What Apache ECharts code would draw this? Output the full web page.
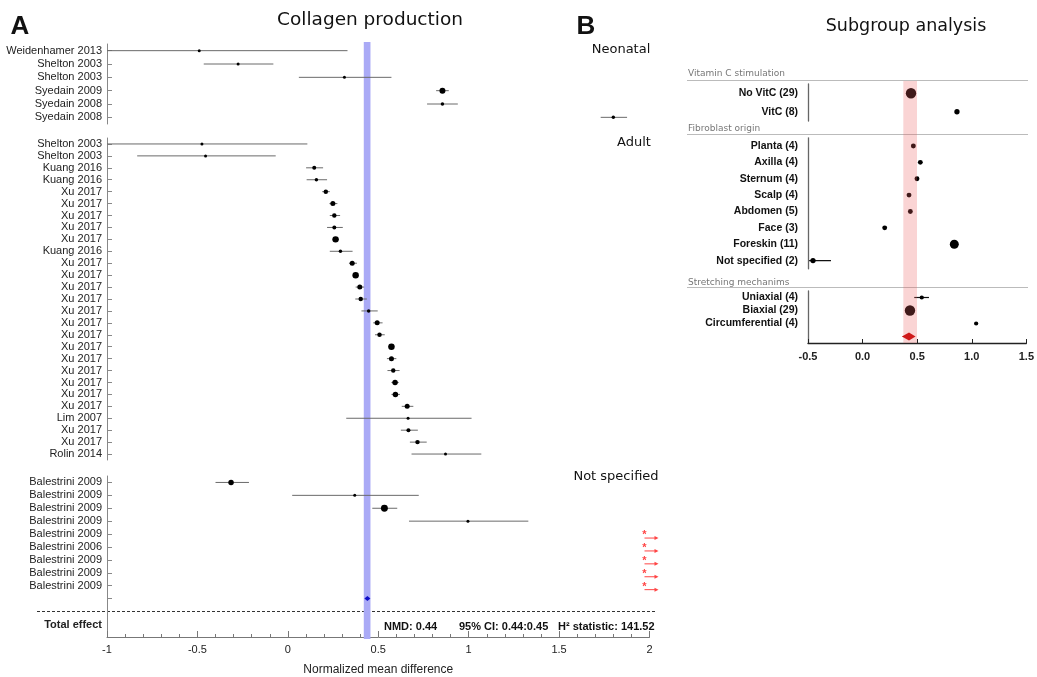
<!DOCTYPE html>
<html><head><meta charset="utf-8">
<script src="https://cdn.jsdelivr.net/npm/echarts@6/dist/echarts.min.js"></script>
<style>html,body{margin:0;padding:0;background:#fff}#c{width:1037px;height:677px}</style>
</head><body><div id="c"></div>
<script>
// ---------- Panel A : Collagen production ----------
const neoLabels = ['Weidenhamer 2013','Shelton 2003','Shelton 2003','Syedain 2009','Syedain 2008','Syedain 2008'];
const neoMean   = [-0.49, -0.275, 0.313, 0.855, 0.855, 1.80];
const neoLow    = [-1.0, -0.465, 0.061, 0.82, 0.77, 1.73];
const neoHigh   = [0.33, -0.08, 0.573, 0.89, 0.94, 1.876];
const neoWeight = [2.25, 2.25, 2.25, 9, 3, 3];

const adultLabels = ['Shelton 2003','Shelton 2003','Kuang 2016','Kuang 2016','Xu 2017','Xu 2017','Xu 2017','Xu 2017','Xu 2017','Kuang 2016','Xu 2017','Xu 2017','Xu 2017','Xu 2017','Xu 2017','Xu 2017','Xu 2017','Xu 2017','Xu 2017','Xu 2017','Xu 2017','Xu 2017','Xu 2017','Lim 2007','Xu 2017','Xu 2017','Rolin 2014'];
const adultMean = [-0.475,-0.455,0.146,0.158,0.21,0.249,0.257,0.257,0.264,0.291,0.356,0.375,0.398,0.403,0.447,0.494,0.507,0.573,0.573,0.583,0.593,0.595,0.66,0.665,0.667,0.717,0.872];
const adultLow  = [-1.0,-0.833,0.101,0.104,0.19,0.23,0.232,0.217,0.25,0.232,0.338,0.36,0.375,0.373,0.407,0.472,0.482,0.555,0.548,0.551,0.573,0.573,0.63,0.323,0.625,0.675,0.684];
const adultHigh = [0.108,-0.067,0.195,0.217,0.232,0.274,0.289,0.304,0.28,0.358,0.382,0.39,0.422,0.437,0.497,0.524,0.536,0.59,0.6,0.618,0.613,0.62,0.694,1.016,0.719,0.768,1.07];
const adultWeight = [2.25,2.25,4,3,5,6.25,5,4,10.5,3,6.25,10.5,6.25,5,3,6.25,5,10.5,6.25,5,7.5,7.5,6.25,2.25,4,5,2.25];

const nsLabels = ['Balestrini 2009','Balestrini 2009','Balestrini 2009','Balestrini 2009','Balestrini 2009','Balestrini 2006','Balestrini 2009','Balestrini 2009','Balestrini 2009',''];
const nsMean   = [-0.314, 0.37, 0.534, 0.996, null, null, null, null, null, null];
const nsLow    = [-0.40, 0.024, 0.467, 0.67, null, null, null, null, null, null];
const nsHigh   = [-0.215, 0.724, 0.605, 1.33, null, null, null, null, null, null];
const nsWeight = [7.5, 2.25, 12, 2.25, null, null, null, null, null, null];
const nsOutOfRange = [false,false,false,false,true,true,true,true,true,false];

const totalLabels = ['', '', 'Total effect', ''];
const totalNMD = 0.44;
const totalCI = [0.44, 0.45];
const totalH2 = 141.52;
const totalRow = 9;            // diamond row in the "Not specified" block
const bandA = [0.42, 0.457];

const groupNames = ['Neonatal', 'Adult', 'Not specified'];
const xTicksA = { min: -1, max: 2, interval: 0.5 };

// ---------- Panel B : Subgroup analysis ----------
const sectionNames = ['Vitamin C stimulation', 'Fibroblast origin', 'Stretching mechanims'];
const vitLabels = ['No VitC (29)', 'VitC (8)'];
const vitMean   = [0.428, 0.842];
const vitWeight = [27, 7];
const fibLabels = ['Planta (4)','Axilla (4)','Sternum (4)','Scalp (4)','Abdomen (5)','Face (3)','Foreskin (11)','Not specified (2)'];
const fibMean   = [0.449, 0.512, 0.482, 0.41, 0.422, 0.191, 0.818, -0.455];
const fibLow    = [null, null, null, null, null, null, null, -0.49];
const fibHigh   = [null, null, null, null, null, null, null, -0.293];
const fibWeight = [6, 6, 6, 6, 6, 6, 20, 7];
const strLabels = ['Uniaxial (4)', 'Biaxial (29)', 'Circumferential (4)', ''];
const strMean   = [0.542, 0.434, 1.04, null];
const strLow    = [0.473, null, null, null];
const strHigh   = [0.608, null, null, null];
const strWeight = [4.5, 27, 4.5, null];
const subTotalMean = 0.425;
const subTotalCI = [0.36, 0.485];
const subTotalRow = 3;
const bandB = [0.359, 0.482];
const xTicksB = { min: -0.5, max: 1.5, interval: 0.5 };

// ---------- helpers ----------
const SANS = 'Liberation Sans, Arial, sans-serif';
const DEJA = 'DejaVu Sans, Verdana, sans-serif';
const sizeA = w => 2 * Math.sqrt(w);
const sizeB = w => 2 * Math.sqrt(w);

function ptsData(mean, weight) {
  const out = [];
  mean.forEach((m, i) => { if (m != null) out.push([m, i, weight[i]]); });
  return out;
}
function ciData(low, high) {
  const out = [];
  low.forEach((l, i) => { if (l != null && high[i] != null) out.push([l, high[i], i]); });
  return out;
}
function ciSeries(idx, low, high, color, width) {
  return {
    type: 'custom', xAxisIndex: idx, yAxisIndex: idx, z: 3, clip: true, silent: true,
    data: ciData(low, high), encode: { x: [0, 1], y: 2 },
    renderItem: (p, api) => {
      const a = api.coord([api.value(0), api.value(2)]);
      const b = api.coord([api.value(1), api.value(2)]);
      return { type: 'line', shape: { x1: a[0], y1: a[1], x2: b[0], y2: b[1] },
        style: { stroke: color, lineWidth: width } };
    }
  };
}
function ptSeries(idx, mean, weight, sizeFn) {
  return {
    type: 'scatter', xAxisIndex: idx, yAxisIndex: idx, z: 4, silent: true,
    data: ptsData(mean, weight), symbol: 'circle',
    symbolSize: v => sizeFn(v[2]),
    itemStyle: { color: '#000', opacity: 1 }
  };
}
function bandSeries(idx, band, color, z) {
  return {
    type: 'custom', xAxisIndex: idx, yAxisIndex: idx, z: z, silent: true, clip: false,
    data: [[band[0], band[1]]], encode: { x: [0, 1] },
    renderItem: (p, api) => {
      const a = api.coord([api.value(0), 1]);
      const b = api.coord([api.value(1), 0]);
      return { type: 'rect', shape: { x: a[0], y: a[1], width: b[0] - a[0], height: b[1] - a[1] },
        style: { fill: color } };
    }
  };
}
function diamondSeries(idx, mean, ci, row, color, halfH, minHalfW) {
  return {
    type: 'custom', xAxisIndex: idx, yAxisIndex: idx, z: 5, silent: true, clip: false,
    data: [[ci[0], ci[1], mean, row]], encode: { x: [0, 1], y: 3 },
    renderItem: (p, api) => {
      const c = api.coord([api.value(2), api.value(3)]);
      let l = api.coord([api.value(0), api.value(3)])[0];
      let r = api.coord([api.value(1), api.value(3)])[0];
      if (c[0] - l < minHalfW) l = c[0] - minHalfW;
      if (r - c[0] < minHalfW) r = c[0] + minHalfW;
      return { type: 'polygon', shape: { points: [[l, c[1]], [c[0], c[1] - halfH], [r, c[1]], [c[0], c[1] + halfH]] },
        style: { fill: color } };
    }
  };
}

// grids
const leftA = 107, rightA = 387.5, leftB = 808, rightB = 7;
const grids = [
  { left: leftA, right: rightA, top: 42, height: 597 },   // 0 band A
  { left: leftA, right: rightA, top: 44, height: 80 },    // 1 neonatal
  { left: leftA, right: rightA, top: 138, height: 322 },  // 2 adult
  { left: leftA, right: rightA, top: 476, height: 129 },  // 3 not specified
  { left: leftA, right: rightA, top: 605, height: 34 },   // 4 total
  { left: leftB, right: rightB, top: 81, height: 262 },   // 5 band B
  { left: leftB, right: rightB, top: 84, height: 37 },    // 6 vit C
  { left: leftB, right: rightB, top: 137.8, height: 131 },// 7 fibroblast
  { left: leftB, right: rightB, top: 291, height: 52 }    // 8 stretching
];

function hiddenX(i, t) { return { type: 'value', gridIndex: i, min: t.min, max: t.max, show: false, splitLine: { show: false } }; }
function hiddenY(i) { return { type: 'value', gridIndex: i, min: 0, max: 1, show: false, splitLine: { show: false } }; }
function catYA(i, labels, showTick) {
  return {
    type: 'category', gridIndex: i, data: labels, inverse: true,
    axisLine: { show: true, onZero: false, lineStyle: { color: '#888', width: 1 } },
    axisTick: { show: showTick, inside: true, length: 5, alignWithLabel: true, lineStyle: { color: '#888' } },
    axisLabel: { fontSize: 11, color: '#222', margin: 5, fontFamily: SANS, interval: 0 },
    splitLine: { show: false }
  };
}
function catYB(i, labels) {
  return {
    type: 'category', gridIndex: i, data: labels, inverse: true,
    axisLine: { show: true, onZero: false, lineStyle: { color: '#666', width: 1.3 } },
    axisTick: { show: false },
    axisLabel: { fontSize: 10.5, fontWeight: 'bold', color: '#111', margin: 10, fontFamily: SANS, interval: 0 },
    splitLine: { show: false }
  };
}

const xAxes = [
  hiddenX(0, xTicksA), hiddenX(1, xTicksA), hiddenX(2, xTicksA), hiddenX(3, xTicksA),
  {
    type: 'value', gridIndex: 4, min: xTicksA.min, max: xTicksA.max, interval: xTicksA.interval,
    axisLine: { show: true, onZero: false, lineStyle: { color: '#777', width: 1 } },
    axisTick: { show: true, inside: true, length: 6, lineStyle: { color: '#777' } },
    minorTick: { show: true, splitNumber: 5, length: 3, lineStyle: { color: '#777' } },
    axisLabel: { fontSize: 11, color: '#222', margin: 7, fontFamily: SANS },
    splitLine: { show: false },
    name: 'Normalized mean difference', nameLocation: 'middle', nameGap: 27,
    nameTextStyle: { fontSize: 12, color: '#222', fontFamily: SANS }
  },
  hiddenX(5, xTicksB), hiddenX(6, xTicksB), hiddenX(7, xTicksB),
  {
    type: 'value', gridIndex: 8, min: xTicksB.min, max: xTicksB.max, interval: xTicksB.interval,
    axisLine: { show: true, onZero: false, lineStyle: { color: '#222', width: 1.3 } },
    axisTick: { show: true, inside: true, length: 4, lineStyle: { color: '#222' } },
    axisLabel: { fontSize: 11, fontWeight: 'bold', color: '#222', margin: 8, fontFamily: SANS,
      formatter: v => v.toFixed(1) },
    splitLine: { show: false }
  }
];
const totalY = catYA(4, totalLabels, false);
totalY.axisLabel.fontWeight = 'bold';
const yAxes = [
  hiddenY(0), catYA(1, neoLabels, true), catYA(2, adultLabels, true), catYA(3, nsLabels, true), totalY,
  hiddenY(5), catYB(6, vitLabels), catYB(7, fibLabels), catYB(8, strLabels)
];

const outData = [];
nsOutOfRange.forEach((f, i) => { if (f) outData.push([xTicksA.max, i]); });
const RED = '#ff4545';

const series = [
  bandSeries(0, bandA, '#aaaaf6', 1),
  ciSeries(1, neoLow, neoHigh, '#6a6a6a', 1), ptSeries(1, neoMean, neoWeight, sizeA),
  ciSeries(2, adultLow, adultHigh, '#6a6a6a', 1), ptSeries(2, adultMean, adultWeight, sizeA),
  ciSeries(3, nsLow, nsHigh, '#6a6a6a', 1), ptSeries(3, nsMean, nsWeight, sizeA),
  diamondSeries(3, totalNMD, totalCI, totalRow, '#1010c8', 2.5, 3),
  {
    type: 'custom', xAxisIndex: 3, yAxisIndex: 3, z: 5, silent: true, clip: false,
    data: outData, encode: { x: 0, y: 1 },
    renderItem: (p, api) => {
      const c = api.coord([api.value(0), api.value(1)]);
      const x = c[0] - 5, y = c[1];
      return { type: 'group', children: [
        { type: 'text', style: { x: x, y: y + 1, text: '*', fill: RED, font: 'bold 11px ' + SANS, align: 'center', verticalAlign: 'middle' } },
        { type: 'line', shape: { x1: x, y1: y + 4, x2: x + 12, y2: y + 4 }, style: { stroke: RED, lineWidth: 1 } },
        { type: 'polygon', shape: { points: [[x + 14, y + 4], [x + 10, y + 2], [x + 10, y + 6]] }, style: { fill: RED } }
      ] };
    }
  },
  ptSeries(6, vitMean, vitWeight, sizeB),
  ciSeries(7, fibLow, fibHigh, '#111', 1.2), ptSeries(7, fibMean, fibWeight, sizeB),
  ciSeries(8, strLow, strHigh, '#111', 1.2), ptSeries(8, strMean, strWeight, sizeB),
  diamondSeries(8, subTotalMean, subTotalCI, subTotalRow, '#c40000', 4, 3),
  bandSeries(5, bandB, 'rgba(238,96,96,0.27)', 10)
];

const graphic = [
  { type: 'text', style: { x: 20, y: 27, text: 'A', font: 'bold 26px ' + SANS, fill: '#111', align: 'center', verticalAlign: 'middle' } },
  { type: 'text', style: { x: 370, y: 20, text: 'Collagen production', font: '18.5px ' + DEJA, fill: '#111', align: 'center', verticalAlign: 'middle' } },
  { type: 'text', style: { x: 586, y: 27, text: 'B', font: 'bold 26px ' + SANS, fill: '#111', align: 'center', verticalAlign: 'middle' } },
  { type: 'text', style: { x: 906, y: 26, text: 'Subgroup analysis', font: '17.5px ' + DEJA, fill: '#111', align: 'center', verticalAlign: 'middle' } },
  { type: 'text', style: { x: 621, y: 50, text: groupNames[0], font: '13px ' + DEJA, fill: '#111', align: 'center', verticalAlign: 'middle' } },
  { type: 'text', style: { x: 634, y: 143, text: groupNames[1], font: '13px ' + DEJA, fill: '#111', align: 'center', verticalAlign: 'middle' } },
  { type: 'text', style: { x: 616, y: 477, text: groupNames[2], font: '13px ' + DEJA, fill: '#111', align: 'center', verticalAlign: 'middle' } },
  { type: 'line', shape: { x1: 37, y1: 611.5, x2: 656, y2: 611.5 }, style: { stroke: '#333', lineWidth: 1, lineDash: [3, 2] } },
  { type: 'text', style: { x: 384, y: 627, text: 'NMD: ' + totalNMD.toFixed(2), font: 'bold 11px ' + SANS, fill: '#111', verticalAlign: 'middle' } },
  { type: 'text', style: { x: 459, y: 627, text: '95% CI: ' + totalCI[0].toFixed(2) + ':' + totalCI[1].toFixed(2), font: 'bold 11px ' + SANS, fill: '#111', verticalAlign: 'middle' } },
  { type: 'text', style: { x: 558, y: 627, text: 'H\u00B2 statistic: ' + totalH2.toFixed(2), font: 'bold 11px ' + SANS, fill: '#111', verticalAlign: 'middle' } },
  { type: 'text', style: { x: 688, y: 74, text: sectionNames[0], font: '9px ' + DEJA, fill: '#777', verticalAlign: 'middle' } },
  { type: 'line', shape: { x1: 687, y1: 80.5, x2: 1028, y2: 80.5 }, style: { stroke: '#bbb', lineWidth: 1 } },
  { type: 'text', style: { x: 688, y: 128.7, text: sectionNames[1], font: '9px ' + DEJA, fill: '#777', verticalAlign: 'middle' } },
  { type: 'line', shape: { x1: 687, y1: 134.5, x2: 1028, y2: 134.5 }, style: { stroke: '#bbb', lineWidth: 1 } },
  { type: 'text', style: { x: 688, y: 282.7, text: sectionNames[2], font: '9px ' + DEJA, fill: '#777', verticalAlign: 'middle' } },
  { type: 'line', shape: { x1: 687, y1: 287.5, x2: 1028, y2: 287.5 }, style: { stroke: '#bbb', lineWidth: 1 } }
];

const chart = echarts.init(document.getElementById('c'), null, { renderer: 'canvas' });
chart.setOption({
  animation: false,
  backgroundColor: '#fff',
  grid: grids,
  xAxis: xAxes,
  yAxis: yAxes,
  series: series,
  graphic: graphic
});
</script>
</body></html>
